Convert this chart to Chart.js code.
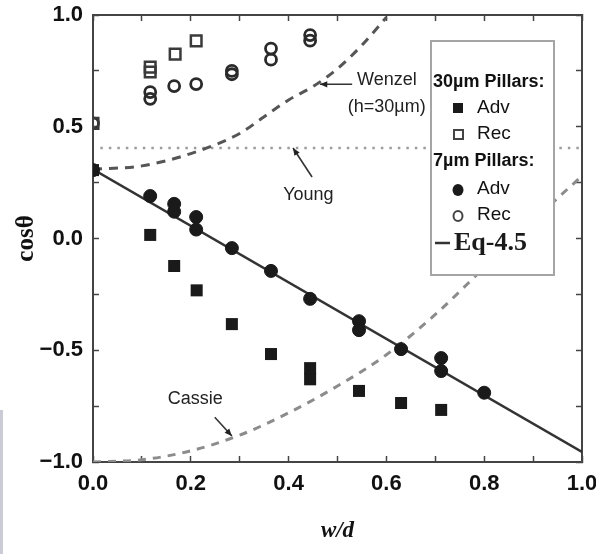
<!DOCTYPE html>
<html>
<head>
<meta charset="utf-8">
<script src="https://cdn.jsdelivr.net/npm/chart.js@4"></script>
<style>
  body { margin: 0; background: #fff; }
  #wrap { width: 596px; height: 554px; }
</style>
</head>
<body>
<div id="wrap"><canvas id="contactChart" width="596" height="554"></canvas></div>
<script>
// --- Data ---
// 30um pillars
const adv30X = [0.0, 0.117, 0.166, 0.212, 0.284, 0.364, 0.444, 0.444, 0.544, 0.63, 0.712];
const adv30Y = [0.306, 0.016, -0.123, -0.232, -0.383, -0.517, -0.58, -0.63, -0.682, -0.736, -0.767];
const rec30X = [0.0, 0.117, 0.117, 0.168, 0.211];
const rec30Y = [0.515, 0.767, 0.745, 0.825, 0.884];
// 7um pillars
const adv7X = [0.0, 0.117, 0.166, 0.166, 0.211, 0.211, 0.284, 0.364, 0.444, 0.544, 0.544, 0.63, 0.712, 0.712, 0.80];
const adv7Y = [0.306, 0.19, 0.155, 0.12, 0.096, 0.04, -0.043, -0.145, -0.27, -0.37, -0.41, -0.495, -0.535, -0.593, -0.69];
const rec7X = [0.0, 0.117, 0.117, 0.166, 0.211, 0.284, 0.284, 0.364, 0.364, 0.444, 0.444];
const rec7Y = [0.515, 0.655, 0.625, 0.682, 0.691, 0.75, 0.735, 0.85, 0.80, 0.91, 0.885];
// model curves
const wenzelX = [0.0, 0.1, 0.2, 0.3, 0.35, 0.4, 0.45, 0.5, 0.55, 0.6];
const wenzelY = [0.31, 0.325, 0.38, 0.47, 0.545, 0.62, 0.68, 0.76, 0.865, 0.99];
const cassieX = [0.0, 0.1, 0.2, 0.3, 0.4, 0.5, 0.6, 0.7, 0.8, 0.9, 1.0];
const cassieY = [-1.0, -0.99, -0.95, -0.88, -0.78, -0.66, -0.52, -0.34, -0.13, 0.08, 0.28];
const youngX = [0.015, 1.0];
const youngY = [0.405, 0.405];
const eqX = [0.0, 1.0];
const eqY = [0.31, -0.955];

const pts = (xs, ys) => xs.map((x, i) => ({ x: x, y: ys[i] }));

const tickFont = { family: "'Liberation Sans', Arial, sans-serif", size: 22, weight: 'bold', lineHeight: 1 };
const axisColor = '#444';

// --- legend box + labels drawn on top ---
function arrow(ctx, x1, y1, x2, y2) {
  ctx.beginPath();
  ctx.moveTo(x1, y1);
  ctx.lineTo(x2, y2);
  ctx.stroke();
  const a = Math.atan2(y2 - y1, x2 - x1), h = 8;
  ctx.beginPath();
  ctx.moveTo(x2, y2);
  ctx.lineTo(x2 - h * Math.cos(a - 0.4), y2 - h * Math.sin(a - 0.4));
  ctx.lineTo(x2 - h * Math.cos(a + 0.4), y2 - h * Math.sin(a + 0.4));
  ctx.closePath();
  ctx.fill();
}

const extras = {
  id: 'extras',
  beforeDraw(chart) {
    const ctx = chart.ctx;
    ctx.save();
    ctx.fillStyle = '#fff';
    ctx.fillRect(0, 0, chart.width, chart.height);
    ctx.fillStyle = '#c9ccd4';
    ctx.fillRect(0, 410, 3, 144);
    ctx.restore();
  },
  afterDatasetsDraw(chart) {
    const ctx = chart.ctx;
    const sx = chart.scales.x, sy = chart.scales.y;
    const px = v => sx.getPixelForValue(v), py = v => sy.getPixelForValue(v);
    ctx.save();
    ctx.fillStyle = '#222';
    ctx.strokeStyle = '#333';
    ctx.lineWidth = 1.6;
    ctx.textBaseline = 'middle';
    ctx.textAlign = 'left';
    ctx.font = "18px 'Liberation Sans', Arial, sans-serif";
    ctx.fillText('Wenzel', px(0.54), py(0.709));
    ctx.fillText('(h=30\u00b5m)', px(0.521), py(0.588));
    arrow(ctx, px(0.53), py(0.69), px(0.464), py(0.69));
    ctx.fillText('Young', px(0.389), py(0.195));
    arrow(ctx, px(0.448), py(0.275), px(0.409), py(0.405));
    ctx.fillText('Cassie', px(0.153), py(-0.718));
    arrow(ctx, px(0.249), py(-0.80), px(0.284), py(-0.884));

    // legend box
    const L = 431, T = 41, W = 123, H = 234;
    ctx.fillStyle = '#fff';
    ctx.fillRect(L, T, W, H);
    ctx.strokeStyle = '#a5a5a5';
    ctx.lineWidth = 2;
    ctx.strokeRect(L, T, W, H);
    ctx.fillStyle = '#111';
    ctx.font = "bold 18px 'Liberation Sans', Arial, sans-serif";
    ctx.fillText('30\u00b5m Pillars:', L + 2, 82);
    ctx.fillText('7\u00b5m Pillars:', L + 2, 161);
    ctx.font = "19px 'Liberation Sans', Arial, sans-serif";
    ctx.fillText('Adv', 477, 108);
    ctx.fillText('Rec', 477, 134);
    ctx.fillText('Adv', 477, 189);
    ctx.fillText('Rec', 477, 215);
    // symbols
    ctx.fillStyle = '#1a1a1a';
    ctx.fillRect(453, 103, 10, 10);
    ctx.strokeStyle = '#444';
    ctx.lineWidth = 2;
    ctx.strokeRect(454, 130, 9, 9);
    ctx.beginPath();
    ctx.ellipse(458, 190, 5.5, 6, 0, 0, Math.PI * 2);
    ctx.fill();
    ctx.beginPath();
    ctx.ellipse(458, 216, 4.5, 5, 0, 0, Math.PI * 2);
    ctx.stroke();
    ctx.strokeStyle = '#333';
    ctx.lineWidth = 2.5;
    ctx.beginPath();
    ctx.moveTo(435, 243);
    ctx.lineTo(450, 243);
    ctx.stroke();
    ctx.font = "bold 26px 'Liberation Serif', 'Times New Roman', serif";
    ctx.fillText('Eq-4.5', 454, 243);
    ctx.restore();
  }
};

function tickGrid() {
  return { drawOnChartArea: false, tickLength: -6, tickColor: axisColor, tickWidth: 1.5 };
}

// keep the plot box where the figure has it
function noPad(s) {
  s.paddingLeft = 0;
  s.paddingRight = 0;
  s.paddingTop = 0;
  s.paddingBottom = 0;
}

const ctx = document.getElementById('contactChart').getContext('2d');
const chart = new Chart(ctx, {
  type: 'scatter',
  data: {
    datasets: [
      {
        label: '30um Adv',
        data: pts(adv30X, adv30Y),
        pointStyle: 'rect',
        pointRadius: 8.5,
        backgroundColor: '#1a1a1a',
        borderColor: '#1a1a1a',
        borderWidth: 0,
        clip: 0,
        order: 1,
      },
      {
        label: '30um Rec',
        data: pts(rec30X, rec30Y),
        pointStyle: 'rect',
        pointRadius: 7.5,
        backgroundColor: 'rgba(0,0,0,0)',
        borderColor: '#3a3a3a',
        borderWidth: 2.5,
        clip: 0,
        order: 1,
      },
      {
        label: '7um Adv',
        data: pts(adv7X, adv7Y),
        pointStyle: 'circle',
        pointRadius: 6.5,
        backgroundColor: '#1a1a1a',
        borderColor: '#1a1a1a',
        borderWidth: 1,
        clip: 0,
        order: 1,
      },
      {
        label: '7um Rec',
        data: pts(rec7X, rec7Y),
        pointStyle: 'circle',
        pointRadius: 5.5,
        backgroundColor: 'rgba(0,0,0,0)',
        borderColor: '#2a2a2a',
        borderWidth: 2.8,
        clip: 0,
        order: 1,
      },
      {
        label: 'Eq-4.5',
        data: pts(eqX, eqY),
        showLine: true,
        pointRadius: 0,
        borderColor: '#333',
        borderWidth: 2.5,
        order: 2,
      },
      {
        label: 'Wenzel',
        data: pts(wenzelX, wenzelY),
        showLine: true,
        pointRadius: 0,
        borderColor: '#555',
        borderWidth: 3,
        borderDash: [9, 7],
        cubicInterpolationMode: 'monotone',
        order: 3,
      },
      {
        label: 'Cassie',
        data: pts(cassieX, cassieY),
        showLine: true,
        pointRadius: 0,
        borderColor: '#8c8c8c',
        borderWidth: 3,
        borderDash: [8, 7],
        cubicInterpolationMode: 'monotone',
        order: 3,
      },
      {
        label: 'Young',
        data: pts(youngX, youngY),
        showLine: true,
        pointRadius: 0,
        borderColor: '#9c9c9c',
        borderWidth: 2.5,
        borderDash: [2.5, 6],
        order: 3,
      },
    ],
  },
  options: {
    responsive: false,
    animation: false,
    devicePixelRatio: 1,
    layout: { padding: { top: 15, right: 14, left: 0, bottom: 0 } },
    plugins: { legend: { display: false }, tooltip: { enabled: false } },
    scales: {
      x: {
        type: 'linear',
        position: 'bottom',
        min: 0,
        max: 1,
        ticks: {
          stepSize: 0.1,
          autoSkip: false,
          maxRotation: 0,
          padding: 17,
          color: '#111',
          font: tickFont,
          callback: v => (Math.round(v * 10) % 2 === 0 ? v.toFixed(1) : ''),
        },
        grid: tickGrid(),
        border: { color: axisColor, width: 2 },
        title: {
          display: true,
          text: 'w/d',
          color: '#111',
          font: { family: "'Liberation Serif', 'Times New Roman', serif", size: 23, style: 'italic', weight: 'bold' },
          padding: { top: 0, bottom: 9 },
        },
        afterFit: s => { s.height = 92; noPad(s); },
      },
      x2: {
        type: 'linear',
        position: 'top',
        min: 0,
        max: 1,
        ticks: { stepSize: 0.1, autoSkip: false, display: false },
        grid: tickGrid(),
        border: { color: axisColor, width: 2 },
        afterFit: s => { s.height = 0; noPad(s); },
      },
      y: {
        type: 'linear',
        position: 'left',
        min: -1,
        max: 1,
        ticks: {
          stepSize: 0.25,
          autoSkip: false,
          padding: 16,
          color: '#111',
          font: tickFont,
          callback: v => (Math.round(v * 4) % 2 === 0 ? (v < 0 ? '\u2212' + (-v).toFixed(1) : v.toFixed(1)) : ''),
        },
        grid: tickGrid(),
        border: { color: axisColor, width: 2 },
        title: {
          display: true,
          text: 'cos\u03b8',
          color: '#111',
          font: { family: "'Liberation Serif', 'Times New Roman', serif", size: 25, weight: 'bold' },
          padding: { top: 12, bottom: 0 },
        },
        afterFit: s => { s.width = 93; noPad(s); },
      },
      y2: {
        type: 'linear',
        position: 'right',
        min: -1,
        max: 1,
        ticks: { stepSize: 0.25, autoSkip: false, display: false },
        grid: tickGrid(),
        border: { color: axisColor, width: 2 },
        afterFit: s => { s.width = 0; noPad(s); },
      },
    },
  },
  plugins: [extras],
});
</script>
</body>
</html>
